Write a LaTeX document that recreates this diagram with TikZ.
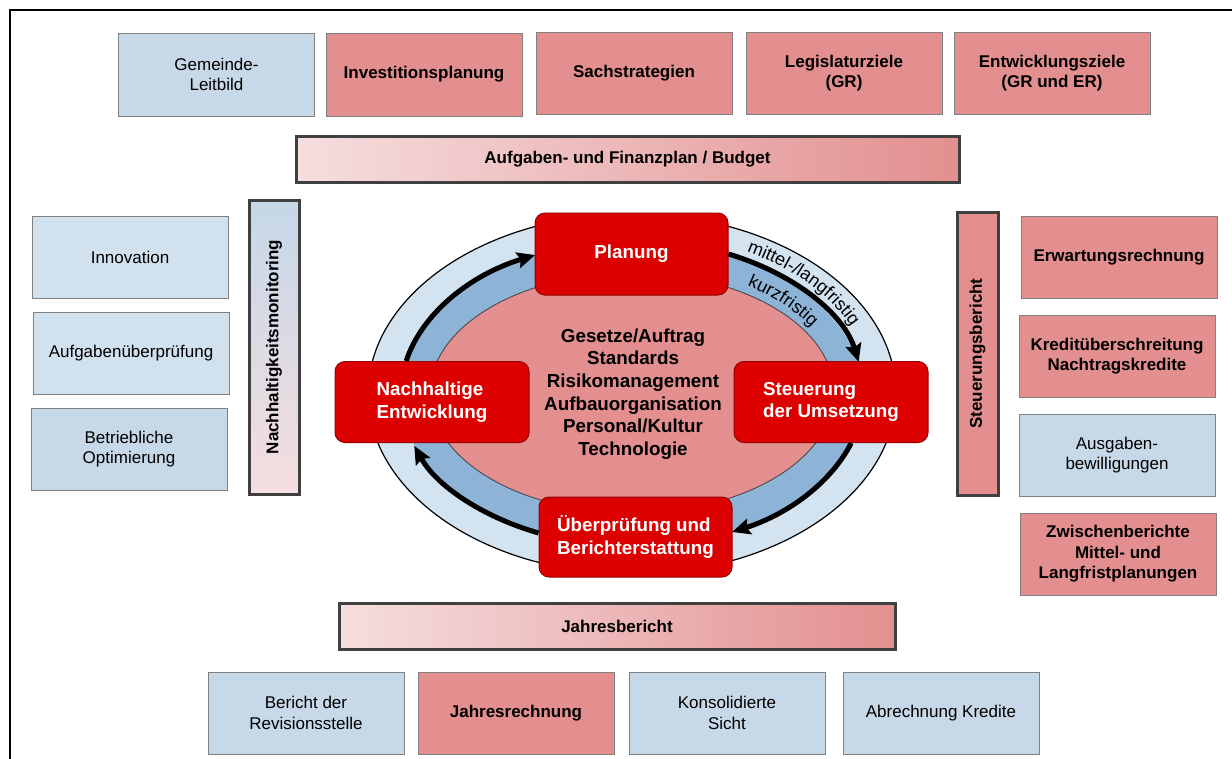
\documentclass[tikz,border=0pt]{standalone}
\usepackage{fontspec}
\setmainfont{Liberation Sans}
\usetikzlibrary{shapes.geometric,arrows.meta,decorations.text}

\definecolor{boxblue}{RGB}{199,216,232}
\definecolor{boxbluelt}{RGB}{210,225,238}
\definecolor{boxpink}{RGB}{227,143,143}
\definecolor{boxedge}{RGB}{128,128,128}
\definecolor{baredge}{RGB}{64,64,64}
\definecolor{barlight}{RGB}{245,222,223}
\definecolor{barblue}{RGB}{197,215,232}
\definecolor{cyclered}{RGB}{220,0,0}
\definecolor{cycleedge}{RGB}{150,0,0}
\definecolor{ringouter}{RGB}{212,227,240}
\definecolor{ringmid}{RGB}{141,180,215}
\definecolor{ringcore}{RGB}{227,143,143}

\tikzset{
  txt/.style={font=\fontsize{17}{20.5}\selectfont},
  txtb/.style={font=\fontsize{17}{20.5}\selectfont\bfseries},
  card/.style={draw=boxedge, line width=1pt, minimum width=196pt,
    minimum height=82pt, inner sep=0pt, align=center},
  bluecard/.style={card, fill=boxblue, txt},
  lightcard/.style={card, fill=boxbluelt, txt},
  pinkcard/.style={card, fill=boxpink, txtb},
  hbar/.style={draw=baredge, line width=3pt, minimum height=46pt, inner sep=0pt,
    left color=barlight, right color=boxpink, txtb},
  vbar/.style={draw=baredge, line width=3pt, inner sep=0pt},
  phase/.style={draw=cycleedge, line width=1pt, fill=cyclered, rounded corners=10pt,
    text=white, font=\fontsize{18.8}{22.7}\selectfont\bfseries, align=left,
    inner sep=0pt, minimum width=194pt, minimum height=81pt},
  cyc/.style={line width=5pt, -{Stealth[length=18pt,width=16pt,inset=3pt]}},
  ringlabel/.style={decorate, decoration={text along path, text align=center}},
}

\begin{document}
\begin{tikzpicture}[x=1pt,y=-1pt]
\useasboundingbox (0,0) rectangle (1232,758);

% page frame
\draw[line width=2pt] (10,770) -- (10,10) -- (1240,10);

% top row
\node[bluecard, minimum height=83pt] (leitbild) at (216.5,74.5) {Gemeinde-\\Leitbild};
\node[pinkcard, minimum height=83pt] (invest) at (424,74.5) {Investitionsplanung};
\node[pinkcard] (sach) at (634,73) {Sachstrategien};
\node[pinkcard] (legis) at (844,73) {Legislaturziele\\(GR)};
\node[pinkcard] (entw) at (1052,73) {Entwicklungsziele\\(GR und ER)};
\node[hbar, minimum width=663pt] (afp) at (627.5,159) {Aufgaben- und Finanzplan / Budget};

% left column
\node[lightcard] (innov) at (130,257) {Innovation};
\node[lightcard] (aufg) at (131,353) {Aufgabenüberprüfung};
\node[bluecard] (betr) at (129,449) {Betriebliche\\Optimierung};
\node[vbar, top color=barblue, bottom color=barlight, minimum width=50pt,
  minimum height=294pt] (nhm) at (274,347) {};
\node[txtb, rotate=90] (nhmlabel) at (nhm.center) {Nachhaltigkeitsmonitoring};

% right column
\node[vbar, fill=boxpink, minimum width=41pt, minimum height=283pt] (stb) at (977.5,353.5) {};
\node[txtb, rotate=90] (stblabel) at (stb.center) {Steuerungsbericht};
\node[pinkcard] (erw) at (1119,257) {Erwartungsrechnung};
\node[pinkcard] (kred) at (1117,356) {Kreditüberschreitung\\Nachtragskredite};
\node[bluecard] (ausg) at (1117,455) {Ausgaben-\\bewilligungen};
\node[pinkcard] (zwis) at (1118,554) {Zwischenberichte\\Mittel- und\\Langfristplanungen};

% bottom row
\node[hbar, minimum width=556pt] (jb) at (617,626) {Jahresbericht};
\node[bluecard] (rev) at (306,713) {Bericht der\\Revisionsstelle};
\node[pinkcard] (jr) at (516,713) {Jahresrechnung};
\node[bluecard] (kons) at (727,713) {Konsolidierte\\Sicht};
\node[bluecard] (abr) at (941,713) {Abrechnung Kredite};

% management cycle: rings
\node[ellipse, draw=black, line width=1.2pt, fill=ringouter, inner sep=0pt,
  minimum width=528pt, minimum height=360pt] (ring) at (632,394) {};
\node[ellipse, fill=ringmid, inner sep=0pt,
  minimum width=462pt, minimum height=304pt] (band) at (632,394) {};
\node[ellipse, draw=black!75, line width=0.8pt, fill=ringcore, inner sep=0pt,
  minimum width=404pt, minimum height=240pt] (core) at (632,393) {};

\node[font=\fontsize{18.8}{22.6}\selectfont\bfseries, align=center] (topics) at (633,394)
  {Gesetze/Auftrag\\Standards\\Risikomanagement\\Aufbauorganisation\\Personal/Kultur\\Technologie};

% phases
\node[phase, minimum width=193pt, minimum height=82pt] (plan) at (631.5,254) {Planung};
\node[phase] (nach) at (432,402) {Nachhaltige\\Entwicklung};
\node[phase] (steu) at (831,402) {Steuerung\\der Umsetzung};
\node[phase, minimum width=193pt, minimum height=80pt] (ueber) at (635.5,537) {Überprüfung und\\Berichterstattung};

% cycle arrows
\draw[cyc] ([xshift=-25.8pt]nach.north) arc[start angle=167.85, end angle=114.8, x radius=231pt, y radius=152pt];
\draw[cyc] (plan.east) arc[start angle=65.4, end angle=11.5, x radius=231pt, y radius=152pt];
\draw[cyc] ([xshift=20.2pt]steu.south) arc[start angle=-18.4, end angle=-64.3, x radius=231pt, y radius=152pt];
\draw[cyc] ([yshift=4pt]ueber.west) arc[start angle=246.3, end angle=200, x radius=231pt, y radius=152pt];

% labels along the planning arrow
\path (ring.center) ++(73:241pt and 162pt) coordinate (outerlbl);
\path (ring.center) ++(71:209pt and 130pt) coordinate (innerlbl);
\path[ringlabel, decoration={text={|\fontsize{18}{18}\selectfont|mittel-/langfristig}}]
  (outerlbl) arc[start angle=73, end angle=9, x radius=241pt, y radius=162pt];
\path[ringlabel, decoration={text={|\fontsize{18}{18}\selectfont|kurzfristig}}]
  (innerlbl) arc[start angle=71, end angle=11, x radius=209pt, y radius=130pt];
\end{tikzpicture}
\end{document}
